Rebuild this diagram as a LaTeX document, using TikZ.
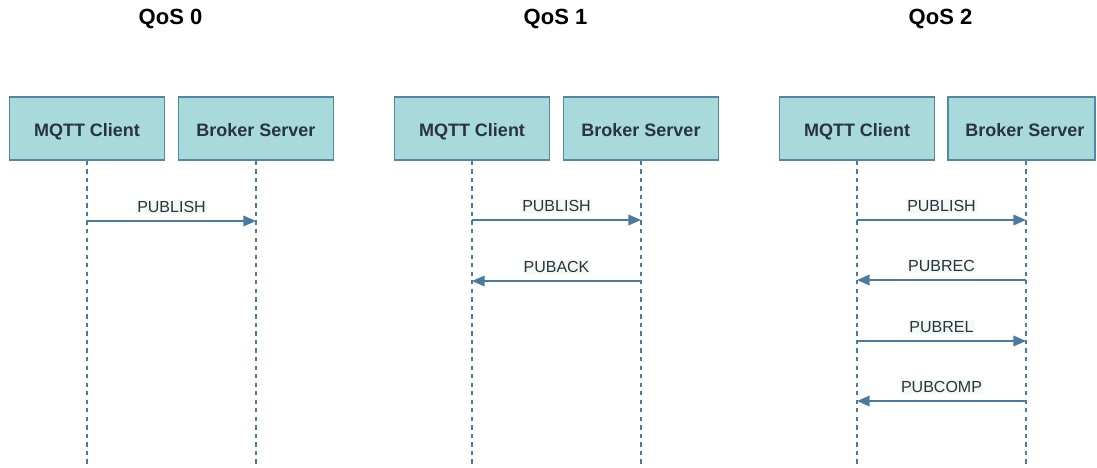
\documentclass[tikz,border=0pt]{standalone}
\usepackage{fontspec}
\setmainfont{Liberation Sans}
\usetikzlibrary{arrows.meta}
\definecolor{boxfill}{RGB}{168,218,220}
\definecolor{boxline}{RGB}{86,134,166}
\definecolor{flow}{RGB}{74,122,158}
\definecolor{inktext}{RGB}{42,50,68}
\definecolor{tagbg}{RGB}{242,250,242}
\begin{document}
\begin{tikzpicture}[x=0.75pt,y=-0.75pt,
  actor/.style={draw=boxline, line width=1.1pt, fill=boxfill,
    minimum width=116.25pt, minimum height=47.25pt, inner sep=0pt,
    text height=12pt, text depth=0pt,
    text=inktext, font=\bfseries\fontsize{13.5}{16}\selectfont},
  lifeline/.style={draw=flow, line width=0.9pt, dash pattern=on 3.2pt off 3.2pt},
  msg/.style={draw=flow, line width=1.1pt, -{Triangle[length=9.5pt,width=8pt]}},
  tag/.style={fill=tagbg, inner sep=0.8pt, text=inktext,
    font=\fontsize{12}{14}\selectfont},
  heading/.style={text=black, font=\bfseries\fontsize{16.5}{20}\selectfont}]
\useasboundingbox (0,0) rectangle (1097,468);

% headings
\node[heading] (h0) at (170.5,19) {QoS 0};
\node[heading] (h1) at (555.5,19) {QoS 1};
\node[heading] (h2) at (940.5,19) {QoS 2};

% participants
\node[actor] (cl0) at (87,128.5) {MQTT Client};
\node[actor] (sv0) at (256,128.5) {Broker Server};
\node[actor] (cl1) at (472,128.5) {MQTT Client};
\node[actor] (sv1) at (641,128.5) {Broker Server};
\node[actor] (cl2) at (857,128.5) {MQTT Client};
\node[actor, minimum width=110.25pt] (sv2) at (1021.5,128.5) {\hspace*{5pt}Broker Server};

% lifeline ends
\coordinate (cl0e) at (87,468);
\coordinate (sv0e) at (256,468);
\coordinate (cl1e) at (472,468);
\coordinate (sv1e) at (641,468);
\coordinate (cl2e) at (857,468);
\coordinate (sv2e) at (1026,468);

\draw[lifeline] (cl0.south) -- (cl0e);
\draw[lifeline] (sv0.south) -- (sv0e);
\draw[lifeline] (cl1.south) -- (cl1e);
\draw[lifeline] (sv1.south) -- (sv1e);
\draw[lifeline] (cl2.south) -- (cl2e);
\draw[lifeline] (sv2.south -| sv2e) -- (sv2e);

% message anchors on the lifelines
\coordinate (c0a) at (87,221);  \coordinate (s0a) at (256,221);
\coordinate (c1a) at (472,220); \coordinate (s1a) at (641,220);
\coordinate (c1b) at (472,281); \coordinate (s1b) at (641,281);
\coordinate (c2a) at (857,220); \coordinate (s2a) at (1026,220);
\coordinate (c2b) at (857,280); \coordinate (s2b) at (1026,280);
\coordinate (c2c) at (857,341); \coordinate (s2c) at (1026,341);
\coordinate (c2d) at (857,401); \coordinate (s2d) at (1026,401);

% QoS 0
\draw[msg] (c0a) -- node[tag, midway, yshift=10.5pt] {PUBLISH} (s0a);
% QoS 1
\draw[msg] (c1a) -- node[tag, midway, yshift=10.5pt] {PUBLISH} (s1a);
\draw[msg] (s1b) -- node[tag, midway, yshift=10.5pt] {PUBACK} (c1b);
% QoS 2
\draw[msg] (c2a) -- node[tag, midway, yshift=10.5pt] {PUBLISH} (s2a);
\draw[msg] (s2b) -- node[tag, midway, yshift=10.5pt] {PUBREC} (c2b);
\draw[msg] (c2c) -- node[tag, midway, yshift=10.5pt] {PUBREL} (s2c);
\draw[msg] (s2d) -- node[tag, midway, yshift=10.5pt] {PUBCOMP} (c2d);
\end{tikzpicture}
\end{document}
